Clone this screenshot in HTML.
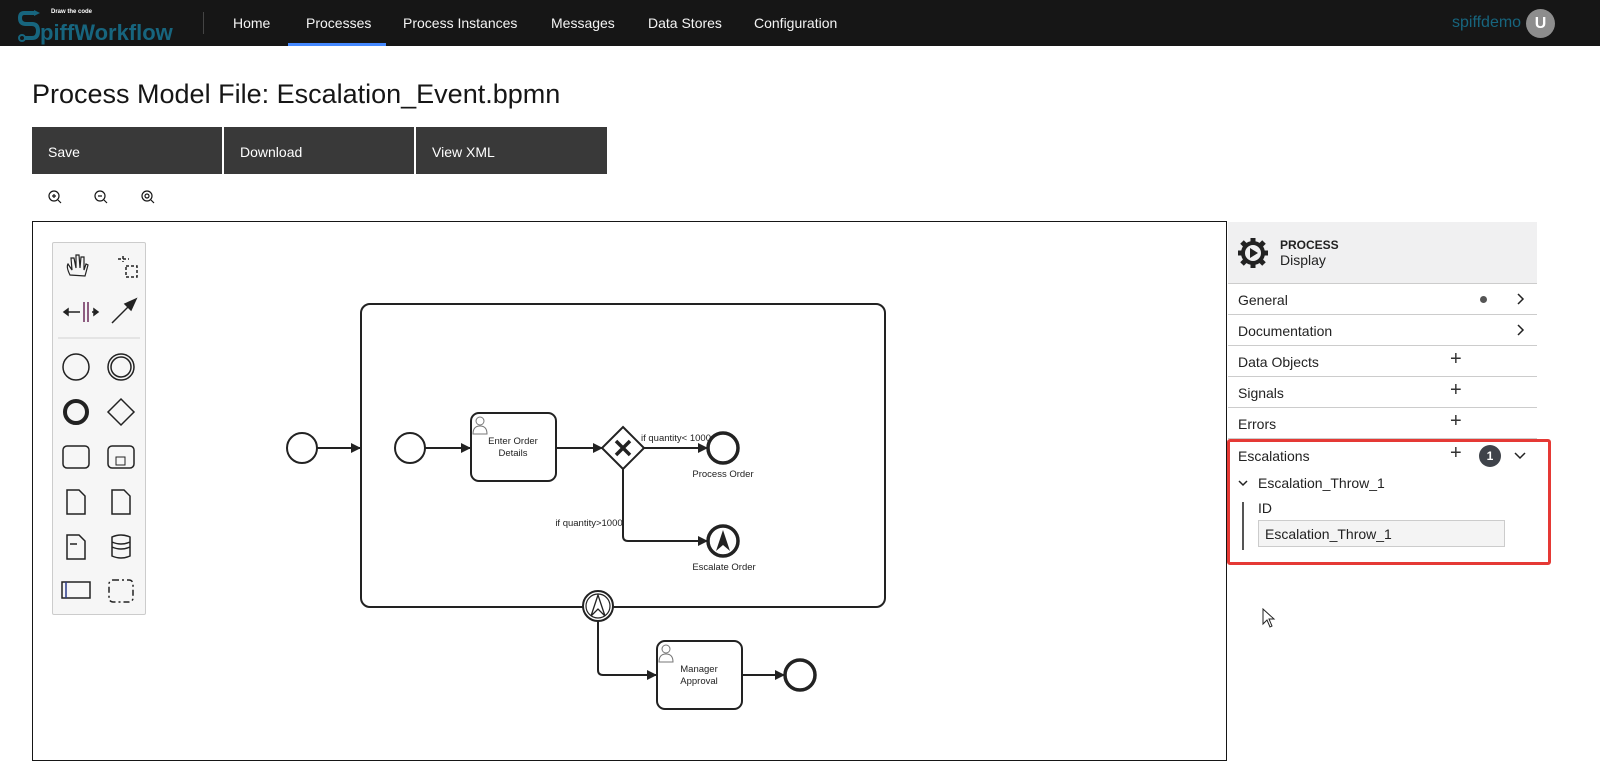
<!DOCTYPE html>
<html><head><style>
*{margin:0;padding:0;box-sizing:border-box}
body{width:1600px;height:747px;overflow:hidden;background:#fff;font-family:"Liberation Sans",sans-serif;position:relative}
.nav{position:absolute;left:0;top:0;width:1600px;height:46px;background:#161616}
.nav a{position:absolute;top:15px;color:#f4f4f4;font-size:14px}
.abs{position:absolute}
.btn{position:absolute;top:127px;height:47px;width:190px;background:#393939;color:#fff;font-size:14px;padding:17px 16px}
.row{position:absolute;left:1228px;width:309px;height:31px;border-bottom:1px solid #ccc;font-size:14px;color:#222;padding:8px 10px}
.plus{position:absolute;left:222px;top:2px;font-size:20px;color:#333;font-weight:300}
.chev{position:absolute;left:288px;top:9px}
</style></head><body>
<div class="nav">
 <div class="abs" style="left:18px;top:8px;width:160px;height:34px">
  <svg width="40" height="34" style="position:absolute;left:0;top:0"><path d="M16 5 H6 Q2 5 2 10 Q2 16 8 16 H14 Q20 16 20 23 Q20 30 14 30 H6" stroke="#17657e" stroke-width="4" fill="none"/><path d="M16 2 L22 5 L16 8Z" fill="#17657e"/><circle cx="4" cy="30" r="3" fill="none" stroke="#17657e" stroke-width="2"/></svg>
  <div class="abs" style="left:33px;top:1px;color:#fff;font-size:6px;font-weight:bold">Draw the code</div>
  <div class="abs" style="left:22px;top:12px;color:#17657e;font-size:22px;font-weight:bold">piffWorkflow</div>
 </div>
 <div class="abs" style="left:203px;top:12px;width:1px;height:22px;background:#444"></div>
 <a style="left:233px">Home</a>
 <a style="left:306px">Processes</a>
 <div class="abs" style="left:288px;top:43px;width:98px;height:3px;background:#4589ff"></div>
 <a style="left:403px">Process Instances</a>
 <a style="left:551px">Messages</a>
 <a style="left:648px">Data Stores</a>
 <a style="left:754px">Configuration</a>
 <div class="abs" style="left:1452px;top:14px;color:#17657e;font-size:16px">spiffdemo</div>
 <div class="abs" style="left:1526px;top:9px;width:29px;height:29px;border-radius:50%;background:#8d8d8d;color:#fff;font-weight:bold;font-size:16px;text-align:center;line-height:29px">U</div>
</div>
<div class="abs" style="left:32px;top:79px;font-size:27px;color:#161616">Process Model File: Escalation_Event.bpmn</div>
<div class="btn" style="left:32px">Save</div>
<div class="btn" style="left:224px">Download</div>
<div class="btn" style="left:416px;width:191px">View XML</div>
<svg class="abs" style="left:45px;top:188px" width="120" height="20" fill="none" stroke="#161616" stroke-width="1.2">
 <circle cx="9" cy="8" r="5"/><path d="M13 12 L16 15 M7 8 H11 M9 6 V10"/>
 <circle cx="55" cy="8" r="5"/><path d="M59 12 L62 15 M53 8 H57"/>
 <circle cx="102" cy="8" r="5"/><path d="M106 12 L109 15"/><circle cx="102" cy="8" r="2"/>
</svg>
<div class="abs" style="left:32px;top:221px;width:1195px;height:540px;border:1px solid #161616"></div>
<div class="abs" style="left:52px;top:242px;width:94px;height:373px;background:#f6f6f6;border:1px solid #ccc;border-radius:2px"></div>
<svg class="abs" style="left:52px;top:242px" width="94" height="373" fill="none" stroke="#222" stroke-width="1.5">
 <path d="M18 33 Q14 25 16 22 L20 28 L19 16 L22 16 L24 26 L24 13 L27 13 L28 26 L29 15 L32 15 L32 28 L34 22 L36 23 L33 34 Z" stroke-width="1.2"/>
 <path d="M71 14 V20 M66 17 H77 M74 24 H85 V35 H74 Z" stroke-dasharray="3 2"/>
 <path d="M32 60 V80 M36 60 V80" stroke="#6b2a5a"/><path d="M12 70 H28 M40 70 H46"/><path d="M12 70 L16 67 V73Z M46 70 L42 67 V73Z" fill="#222"/>
 <path d="M60 81 L80 61"/><path d="M84 57 L73 62 L79 68Z" fill="#222"/>
 <path d="M6 96 H88" stroke="#ddd"/>
 <circle cx="24" cy="125" r="13"/><circle cx="69" cy="125" r="13"/><circle cx="69" cy="125" r="10"/>
 <circle cx="24" cy="170" r="11" stroke-width="4"/><path d="M69 157 L82 170 L69 183 L56 170Z"/>
 <rect x="11" y="204" width="26" height="22" rx="4"/><rect x="56" y="204" width="26" height="22" rx="4"/><rect x="64" y="215" width="9" height="8" stroke-width="1"/>
 <path d="M15 248 H27 L33 254 V272 H15Z"/><path d="M60 248 H72 L78 254 V272 H60Z"/>
 <path d="M15 293 H27 L33 299 V317 H15Z"/><path d="M18 302 H25" /><path d="M60 295 Q69 291 78 295 V314 Q69 318 60 314Z M60 300 Q69 304 78 300 M60 305 Q69 309 78 305"/>
 <rect x="10" y="340" width="28" height="16"/><path d="M14 340 V356" stroke="#2a3a8a"/><rect x="57" y="338" width="24" height="22" rx="4" stroke-dasharray="6 3 2 3"/>
</svg>
<svg class="abs" style="left:0;top:0" width="1228" height="747" fill="none" stroke="#222" stroke-width="2" font-family="Liberation Sans,sans-serif">
 <defs><marker id="a" markerWidth="10" markerHeight="10" refX="9" refY="5" orient="auto" markerUnits="userSpaceOnUse"><path d="M0 0 L10 5 L0 10Z" fill="#222" stroke="none"/></marker></defs>
 <rect x="361" y="304" width="524" height="303" rx="9"/>
 <circle cx="302" cy="448" r="15"/>
 <path d="M317 448 H360" marker-end="url(#a)"/>
 <circle cx="410" cy="448" r="15"/>
 <path d="M425 448 H470" marker-end="url(#a)"/>
 <rect x="471" y="413" width="85" height="68" rx="8"/>
 <path d="M556 448 H602" marker-end="url(#a)"/>
 <path d="M623 427 L644 448 L623 469 L602 448Z"/>
 <path d="M616 441 L630 455 M630 441 L616 455" stroke-width="3.5"/>
 <path d="M644 448 H707" marker-end="url(#a)"/>
 <circle cx="723" cy="448" r="15" stroke-width="3.5"/>
 <path d="M623 469 V536 Q623 541 628 541 H707" marker-end="url(#a)"/>
 <circle cx="723" cy="541" r="15" stroke-width="3.5"/>
 <path d="M723 530 L716 551 L723 545 L730 551Z" fill="#222" stroke="none"/>
 <circle cx="598" cy="606" r="15" fill="#fff"/><circle cx="598" cy="606" r="12" stroke-width="1.2"/>
 <path d="M598 595 L591 616 L598 609 L605 616Z" stroke-width="1.3"/>
 <path d="M598 621 V670 Q598 675 603 675 H656" marker-end="url(#a)"/>
 <rect x="657" y="641" width="85" height="68" rx="8"/>
 <path d="M742 675 H784" marker-end="url(#a)"/>
 <circle cx="800" cy="675" r="15" stroke-width="3.5"/>
 <g stroke="#777" stroke-width="1"><circle cx="480" cy="421" r="4"/><path d="M473 434 Q473 426 480 426 Q487 426 487 434Z"/><circle cx="666" cy="649" r="4"/><path d="M659 662 Q659 654 666 654 Q673 654 673 662Z"/></g>
 <g fill="#222" stroke="none" font-size="9.5" text-anchor="middle">
  <text x="513" y="444">Enter Order</text><text x="513" y="456">Details</text>
  <text x="699" y="672">Manager</text><text x="699" y="684">Approval</text>
  <text x="723" y="477">Process Order</text><text x="724" y="570">Escalate Order</text>
  <text x="676" y="441">if quantity&lt; 1000</text><text x="589" y="526">if quantity&gt;1000</text>
 </g>
</svg>
<div class="abs" style="left:1228px;top:222px;width:309px;height:62px;background:#f0f0f1;border-bottom:1px solid #ccc"></div>
<svg class="abs" style="left:1236px;top:236px" width="34" height="34"><circle cx="17" cy="17" r="12" fill="#222"/><g stroke="#222" stroke-width="5"><path d="M17 2 V32 M2 17 H32 M6 6 L28 28 M28 6 L6 28"/></g><circle cx="17" cy="17" r="8" fill="#f0f0f1"/><path d="M14 12 L22 17 L14 22Z" fill="#222"/></svg>
<div class="abs" style="left:1280px;top:238px;font-size:12px;font-weight:bold;color:#222">PROCESS</div>
<div class="abs" style="left:1280px;top:252px;font-size:14px;color:#222">Display</div>
<div class="row" style="top:284px">General<span class="abs" style="left:252px;top:12px;width:7px;height:7px;border-radius:50%;background:#555"></span><svg class="chev" width="10" height="12"><path d="M2 1 L7 6 L2 11" stroke="#222" stroke-width="1.5" fill="none"/></svg></div>
<div class="row" style="top:315px">Documentation<svg class="chev" width="10" height="12"><path d="M2 1 L7 6 L2 11" stroke="#222" stroke-width="1.5" fill="none"/></svg></div>
<div class="row" style="top:346px">Data Objects<span class="plus">+</span></div>
<div class="row" style="top:377px">Signals<span class="plus">+</span></div>
<div class="row" style="top:408px">Errors<span class="plus">+</span></div>
<div class="row" style="top:440px;border:none">Escalations<span class="plus">+</span><span class="abs" style="left:251px;top:5px;width:22px;height:22px;border-radius:50%;background:#3f434a;color:#fff;font-size:12px;font-weight:bold;text-align:center;line-height:22px">1</span><svg class="abs" style="left:286px;top:12px" width="12" height="8"><path d="M1 1 L6 6 L11 1" stroke="#222" stroke-width="1.5" fill="none"/></svg></div>
<svg class="abs" style="left:1238px;top:480px" width="10" height="7"><path d="M1 1 L5 5 L9 1" stroke="#222" stroke-width="1.5" fill="none"/></svg>
<div class="abs" style="left:1258px;top:475px;font-size:14px;color:#222">Escalation_Throw_1</div>
<div class="abs" style="left:1242px;top:502px;width:2px;height:48px;background:#555"></div>
<div class="abs" style="left:1258px;top:500px;font-size:14px;color:#222">ID</div>
<div class="abs" style="left:1258px;top:520px;width:247px;height:27px;background:#f4f4f4;border:1px solid #ccc;font-size:14px;padding:5px 6px;color:#222">Escalation_Throw_1</div>
<div class="abs" style="left:1227px;top:439px;width:324px;height:126px;border:3px solid #e53935;border-radius:3px"></div>
<svg class="abs" style="left:1262px;top:608px" width="14" height="20"><path d="M1 1 V16 L5 12 L8 19 L10 18 L7 11 L12 11Z" fill="#fff" stroke="#222"/></svg>
</body></html>
